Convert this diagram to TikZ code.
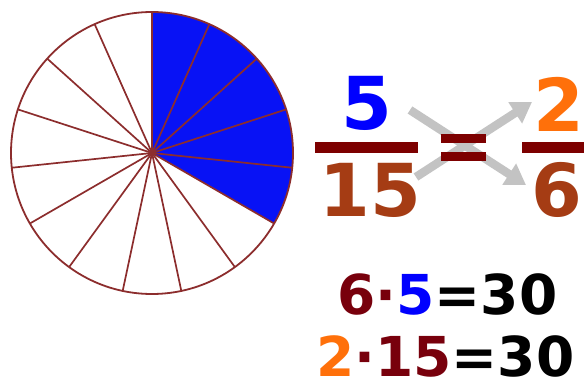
\documentclass[tikz,border=0pt]{standalone}
\usepackage{fontspec}
\setmainfont{DejaVu Sans}
\usetikzlibrary{arrows.meta}
\definecolor{pieblue}{RGB}{8,18,245}
\definecolor{pieline}{RGB}{140,45,45}
\definecolor{barred}{RGB}{125,0,0}
\definecolor{numbrown}{RGB}{165,60,20}
\definecolor{darkred}{RGB}{120,0,12}
\definecolor{numorange}{RGB}{255,112,10}
\definecolor{numblue}{RGB}{0,0,255}
\definecolor{arrgray}{RGB}{195,195,195}
\begin{document}
\begin{tikzpicture}[x=1pt,y=1pt,
  bignum/.style={font=\fontsize{73}{73}\selectfont\bfseries, inner sep=0pt, anchor=base, text depth=0pt},
  eqtext/.style={font=\fontsize{55}{55}\selectfont\bfseries, inner sep=0pt, anchor=base west, text depth=0pt},
  fracbar/.style={fill=barred},
  grayarrow/.style={draw=arrgray, line width=8.5pt, -{Triangle[length=20pt,width=24pt]}}]
\useasboundingbox (0,0) rectangle (584,-382);
% pie
\coordinate (c) at (152,-153);
\fill[pieblue] (c) -- ++(90:141) arc[start angle=90,end angle=-30,radius=141] -- cycle;
\foreach \k in {0,...,14}{
  \draw[pieline, line width=1.7pt] (c) -- ++({90-24*\k}:141);
}
\draw[pieline, line width=1.8pt] (c) circle[radius=141];
% arrows
\coordinate (a1s) at (410,-110);
\coordinate (a1e) at (526,-185);
\coordinate (a2s) at (416,-177);
\coordinate (a2e) at (532,-102);
\draw[grayarrow] (a1s) -- (a1e);
\draw[grayarrow] (a2s) -- (a2e);
% fractions
\node[bignum, text=numblue] (n5) at (367,-130) {5};
\fill[fracbar] (315,-142) rectangle (418,-153);
\node[bignum, text=numbrown] (n15) at (370,-217) {15};
\fill[fracbar] (441,-134) rectangle (486,-143);
\fill[fracbar] (441,-152) rectangle (486,-161);
\node[bignum, text=numorange] (n2) at (559,-132) {2};
\fill[fracbar] (522,-142) rectangle (584,-153);
\node[bignum, text=numbrown] (n6) at (557,-217) {6};
% products
\node[eqtext] (p1) at (337,-315) {\textcolor{darkred}{6·}\textcolor{numblue}{5}\textcolor{black}{=30}};
\node[eqtext] (p2) at (316,-376) {\textcolor{numorange}{2}\textcolor{darkred}{·15}\textcolor{black}{=30}};
\end{tikzpicture}
\end{document}
